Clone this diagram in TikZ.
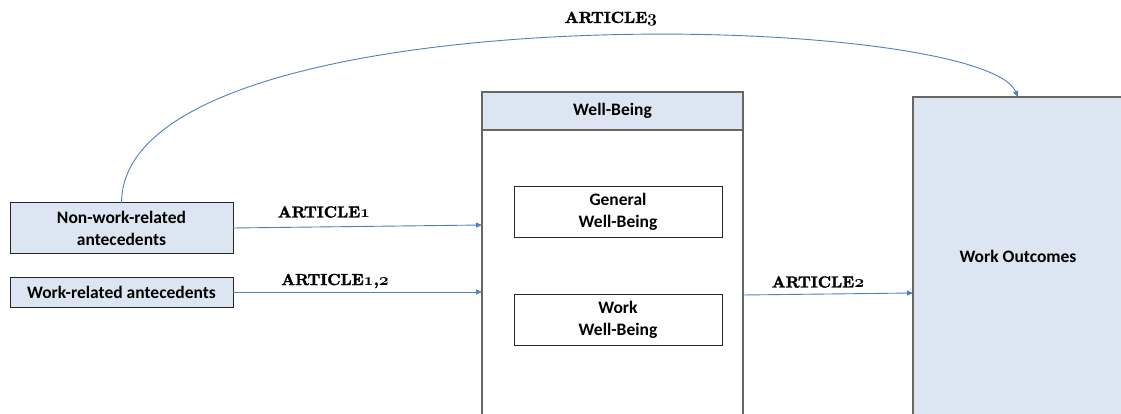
\documentclass[tikz,border=0pt]{standalone}
\usepackage{fontspec}
\newfontfamily\boxfont{Carlito}
\newfontfamily\labfont{lmroman10-bold}[Extension=.otf, FakeBold=2]
\newcommand\osnum[1]{{\fontencoding{OML}\fontfamily{cmm}\fontseries{b}\fontshape{it}\fontsize{19}{20}\selectfont #1}}
\usetikzlibrary{arrows.meta}
\definecolor{lb}{HTML}{DCE6F2}
\definecolor{ln}{HTML}{4F81BD}
\begin{document}
\begin{tikzpicture}[x=1pt,y=-1pt,
  box/.style={draw=black!85, line width=1pt, inner sep=0pt, outer sep=0pt, align=center,
    font=\boxfont\bfseries\fontsize{17.5}{22}\selectfont},
  cont/.style={box, draw=black!60, line width=1.2pt},
  lab/.style={font=\labfont\fontsize{16}{18}\selectfont, inner sep=0pt},
  link/.style={draw=ln, line width=0.9pt, -{Triangle[length=6pt,width=5pt]}}]
\clip (0,0) rectangle (1121,414);
\fill[white] (0,0) rectangle (1121,414);
% antecedents
\node[box, fill=lb, minimum width=223pt, minimum height=50pt] (nw) at (121.5,228) {Non-work-related\\antecedents};
\node[box, fill=lb, minimum width=223pt, minimum height=30pt] (wr) at (121.5,292) {Work-related antecedents};
% well-being container
\node[cont, minimum width=261pt, minimum height=330pt, anchor=north west] (wb) at (482,92) {};
\node[cont, fill=lb, minimum width=261pt, minimum height=38pt, anchor=north west] (wbh) at (482,92) {Well-Being};
\node[box, minimum width=208pt, minimum height=50pt] (gwb) at (618,212) {General\\Well-Being};
\node[box, minimum width=208pt, minimum height=51pt] (wwb) at (618,319.5) {Work\\Well-Being};
% outcomes
\node[cont, fill=lb, minimum width=210pt, minimum height=318pt, anchor=north west] (wo) at (913,97) {};
\node[box, draw=none] (wot) at (1018,256) {Work Outcomes};
% connectors
\draw[link] (nw.east) -- ([yshift=3pt]nw.east -| wb.west);
\draw[link] (wr.east) -- (wr.east -| wb.west);
\draw[link] ([yshift=-3pt]wr.east -| wb.east) -- ([yshift=-1pt]wr.east -| wo.west);
\draw[link] (nw.north) .. controls (122,-10) and (980,10) .. (wo.north);
% labels
\node[lab] (l1) at (324,212) {ARTICLE\osnum{1}};
\node[lab] (l12) at (335,281) {ARTICLE\osnum{1},\osnum{2}};
\node[lab] (l2) at (818,282) {ARTICLE\osnum{2}};
\node[lab] (l3) at (611,19) {ARTICLE\osnum{3}};
\end{tikzpicture}
\end{document}
